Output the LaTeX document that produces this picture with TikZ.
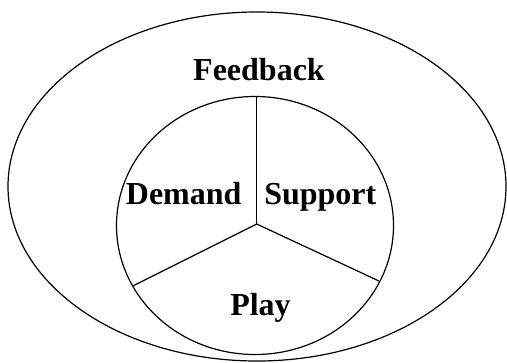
\documentclass[tikz,border=0pt]{standalone}
\usepackage{fontspec}
\setmainfont{Liberation Serif}
\usetikzlibrary{positioning}

\tikzset{
  rim/.style={line width=0.9pt, color=black},
  lbl/.style={anchor=base, inner sep=0.75pt, font=\fontsize{24}{28}\selectfont\bfseries}
}

\begin{document}
\begin{tikzpicture}[x=0.75pt,y=0.75pt,yscale=-1]
	\useasboundingbox (0,0) rectangle (507,362);

	%Shape: Ellipse [outer]
	\draw [rim] (257,186.5) ellipse (249 and 174.5);
	%Shape: Ellipse [inner]
	\draw [rim] (255,225.5) ellipse (138.5 and 129);

	% spoke ends
	\coordinate (hub) at (256.7,224);
	\coordinate (top) at (256.7,96.5);
	\coordinate (lft) at (133.3,285.7);
	\coordinate (rgt) at (379,281);

	%Straight Lines [spokes]
	\draw [rim] (hub) -- (top);
	\draw [rim] (hub) -- (lft);
	\draw [rim] (hub) -- (rgt);

	% Text Node
	\node [lbl] (feedback) at (259,80) {Feedback};
	% Text Node
	\node [lbl] (demand) at (183.7,204) {Demand};
	% Text Node
	\node [lbl] (support) at (320.3,204) {Support};
	% Text Node
	\node [lbl] (play) at (260.5,315) {Play};

\end{tikzpicture}
\end{document}
